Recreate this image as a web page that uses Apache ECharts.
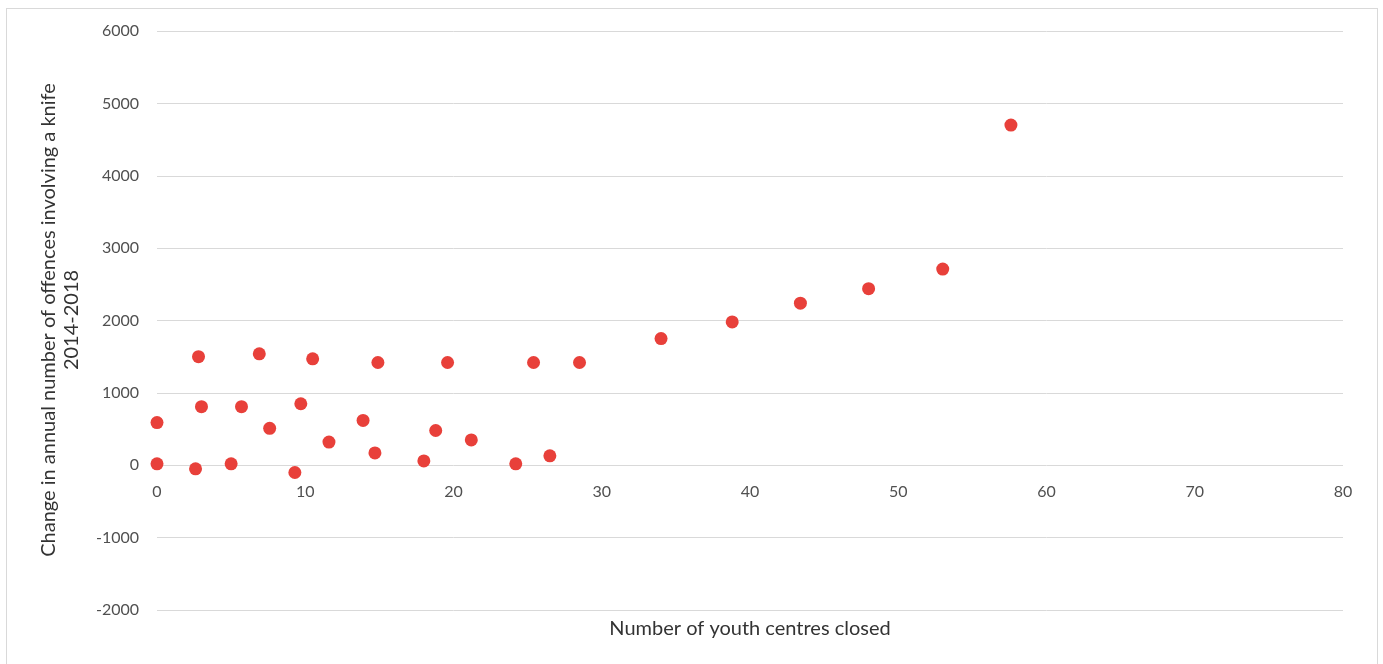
<!DOCTYPE html>
<html>
<head>
<meta charset="utf-8">
<script src="https://cdn.jsdelivr.net/npm/echarts@6/dist/echarts.min.js"></script>
<style>
html,body{margin:0;padding:0;background:#fff;}
#frame{position:absolute;left:6px;top:8px;width:1372px;height:670px;border:1px solid #d9d9d9;box-sizing:border-box;}
#chart{position:absolute;left:0;top:0;width:1383px;height:664px;}
</style>
</head>
<body>
<div id="frame"></div>
<div id="chart"></div>
<script>
const centresClosed = [0, 0, 2.8, 3.0, 2.6, 5.0, 5.7, 6.9, 7.6, 9.3, 9.7, 10.5, 11.6, 13.9, 14.7, 14.9, 18.0, 18.8, 19.6, 21.2, 24.2, 25.4, 26.5, 28.5, 34.0, 38.8, 43.4, 48.0, 53.0, 57.6];
const knifeChange   = [590, 20, 1500, 810, -50, 20, 810, 1540, 510, -100, 850, 1470, 320, 620, 170, 1420, 60, 480, 1420, 350, 20, 1420, 130, 1420, 1750, 1980, 2240, 2440, 2710, 4700];
const xTitle = 'Number of youth centres closed';
const yTitleLines = ['Change in annual number of offences involving a knife', '2014-2018'];

const points = centresClosed.map((x, i) => [x, knifeChange[i]]);
const chart = echarts.init(document.getElementById('chart'));
const font = 'Lato, "Open Sans", sans-serif';
chart.setOption({
  animation: false,
  grid: {left: 157, right: 40, top: 31, bottom: 54, containLabel: false},
  xAxis: {
    type: 'value', min: 0, max: 80, interval: 10,
    offset: -145,
    axisLine: {show: false, onZero: false},
    axisTick: {show: false},
    splitLine: {show: false},
    axisLabel: {color: '#505050', fontSize: 16, fontFamily: font, margin: 19}
  },
  yAxis: {
    type: 'value', min: -2000, max: 6000, interval: 1000,
    axisLine: {show: false},
    axisTick: {show: false},
    splitLine: {show: true, lineStyle: {color: '#d9d9d9', width: 1}},
    axisLabel: {color: '#505050', fontSize: 16, fontFamily: font, margin: 18, formatter: v => String(v)}
  },
  graphic: [
    {type: 'text', x: 750, y: 629,
     style: {text: xTitle, fill: '#333333', font: '20px ' + font, textAlign: 'center', textVerticalAlign: 'middle'}},
    {type: 'text', x: 49, y: 320, rotation: Math.PI / 2,
     style: {text: yTitleLines[0], fill: '#333333', font: '20px ' + font, textAlign: 'center', textVerticalAlign: 'middle'}},
    {type: 'text', x: 72, y: 320, rotation: Math.PI / 2,
     style: {text: yTitleLines[1], fill: '#333333', font: '20px ' + font, textAlign: 'center', textVerticalAlign: 'middle'}}
  ],
  series: [{
    type: 'scatter',
    data: points,
    symbol: 'circle',
    symbolSize: 13,
    itemStyle: {color: '#e8403a', opacity: 1}
  }]
});
</script>
</body>
</html>
